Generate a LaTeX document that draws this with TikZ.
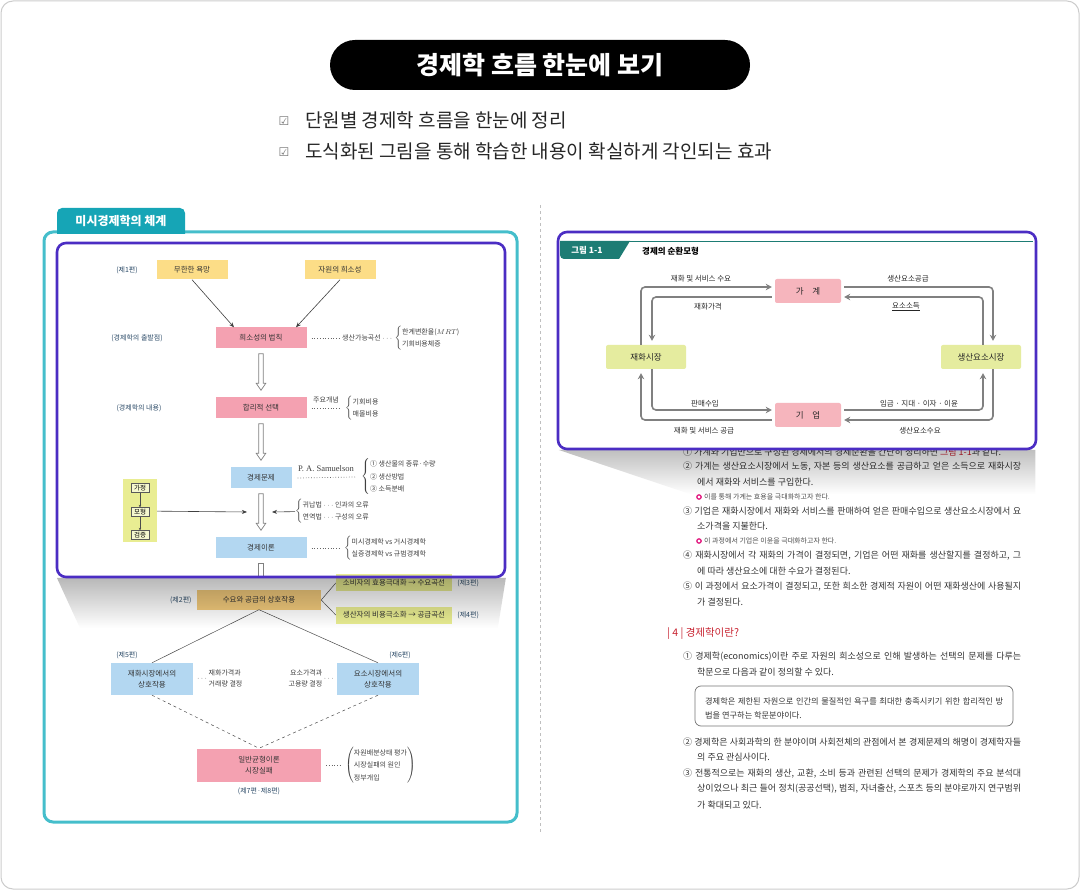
\documentclass[tikz,border=0pt]{standalone}
\usepackage{fontspec}
\setmainfont{Noto Sans CJK KR}
\newfontfamily\symfont{DejaVu Sans}
\newfontfamily\seriffont{Liberation Serif}
\usetikzlibrary{positioning, calc, fadings, arrows.meta}

\definecolor{tealframe}{HTML}{45BECB}
\definecolor{tealtab}{HTML}{16A5B6}
\definecolor{purp}{HTML}{4B2DC3}
\definecolor{pinkbox}{HTML}{F4A1B1}
\definecolor{yelbox}{HTML}{FCDD87}
\definecolor{bluebox}{HTML}{B3D7F1}
\definecolor{limebox}{HTML}{E9ED92}
\definecolor{goldbox}{HTML}{F3CB7C}
\definecolor{navytext}{HTML}{2C4B68}
\definecolor{figteal}{HTML}{1D7C74}
\definecolor{redhead}{HTML}{C7212F}
\definecolor{figpink}{HTML}{F6B5BD}
\definecolor{figlime}{HTML}{E5EC9F}
\definecolor{ringpink}{HTML}{E0107A}

% brace lists
\newcommand\brl[1]{$\left\{\begin{tabular}{@{}l@{}}#1\end{tabular}\right.$}
\newcommand\brp[1]{$\left(\begin{tabular}{@{}l@{}}#1\end{tabular}\right)$}
% hollow arrow between two boxes
\newcommand\holarrow[2]{%
  \draw[hollow] let \p1=(#1.south), \p2=(#2.north) in
    (\x1-2.2pt,\y1-5pt) -- (\x1-2.2pt,\y2+14pt) -- (\x1-4.8pt,\y2+14pt) -- (\x1,\y2+7pt)
    -- (\x1+4.8pt,\y2+14pt) -- (\x1+2.2pt,\y2+14pt) -- (\x1+2.2pt,\y1-5pt) -- cycle;}
% justified text line
\newcommand\fline[5]{\node[txt] (#1) at (#2,#3) {\makebox[#4pt][s]{#5}};}

\begin{document}
\begin{tikzpicture}[x=1pt, y=-1pt,
  box/.style={minimum width=91pt, minimum height=21pt, inner sep=1pt,
    font=\fontsize{7.5}{9}\selectfont, text=black!80},
  ybox/.style={box, fill=yelbox, minimum width=71pt, minimum height=19pt},
  pbox/.style={box, fill=pinkbox},
  bbox/.style={box, fill=bluebox},
  mbox/.style={draw=black!65, fill=white!55!limebox, inner sep=1pt, minimum width=18pt,
    minimum height=9pt, font=\fontsize{6.5}{7}\selectfont},
  part/.style={font=\fontsize{7}{8}\selectfont, text=navytext, inner sep=0pt},
  note/.style={font=\fontsize{7}{12.5}\selectfont, text=black!75, inner sep=0pt},
  leader/.style={draw=black!60, dotted, line width=0.7pt},
  link/.style={draw=black!70, line width=0.5pt},
  hollow/.style={draw=black!50, fill=white, line width=0.7pt},
  thinarr/.style={-{Stealth[length=5pt, width=4pt]}, draw=black!75, line width=0.6pt},
  cbox/.style={minimum width=66pt, minimum height=24pt, inner sep=1pt, rounded corners=2pt,
    font=\fontsize{8.5}{10}\selectfont, text=black!85},
  flow/.style={-{Stealth[length=6pt, width=6.5pt]}, draw=black!50, line width=1.6pt, rounded corners=4pt},
  fig/.style={font=\fontsize{7.5}{9}\selectfont, text=black!85, inner sep=0pt},
  txt/.style={font=\fontsize{9}{10}\selectfont, text=black!80, inner sep=0pt, anchor=west},
  small/.style={font=\fontsize{7}{8}\selectfont, text=black!70, inner sep=0pt, anchor=west},
]

\useasboundingbox (0,0) rectangle (1080,890);
\draw[black!20, line width=1pt, rounded corners=12pt] (1,1) rectangle (1079,889);

% heading
\node[fill=black, rounded corners=25pt, minimum width=420pt, minimum height=50pt, text=white,
  font=\bfseries\fontsize{25}{27}\selectfont] (title) at (540,65) {경제학 흐름 한눈에 보기};
\node[font=\symfont\fontsize{12}{13}\selectfont, text=black!55, inner sep=0pt] (chk1) at (284,121) {☑};
\node[font=\symfont\fontsize{12}{13}\selectfont, text=black!55, inner sep=0pt] (chk2) at (284,152) {☑};
\node[font=\fontsize{19}{22}\selectfont, text=black!85, anchor=west, inner sep=0pt] (goal1) at (305,120) {단원별 경제학 흐름을 한눈에 정리};
\node[font=\fontsize{19}{22}\selectfont, text=black!85, anchor=west, inner sep=0pt] (goal2) at (305,151) {도식화된 그림을 통해 학습한 내용이 확실하게 각인되는 효과};

\draw[black!25, dash pattern=on 3pt off 3pt] (540,205) -- (540,834);

% left panel
\draw[tealframe, line width=3pt, fill=white, rounded corners=9pt] (44,232) rectangle (517,822);
\fill[tealtab] (57,234) {[rounded corners=5pt] -- (57,208) -- (185,208)} -- (185,234) -- cycle;
\node[text=white, font=\bfseries\fontsize{12}{14}\selectfont] (tab) at (121,221) {미시경제학의 체계};
\fill[white, rounded corners=9pt] (57,243) rectangle (505,577);

\node[part] (vol1) at (127,270) {(제1편)};
\node[ybox] (wants) at (192,270) {무한한 욕망};
\node[ybox] (scarce) at (340,270) {자원의 희소성};

\node[part] (start) at (137,338) {(경제학의 출발점)};
\node[pbox] (law) at (261,338) {희소성의 법칙};
\draw[thinarr] (wants.south) -- ([xshift=-27pt]law.north);
\draw[thinarr] (scarce.south) -- ([xshift=35pt]law.north);
\node[note, anchor=west] (ppc) at (342,338) {생산가능곡선 $\cdots$};
\node[note, right=2pt of ppc] (mrt) {\brl{한계변환율($MRT$)\\기회비용체증}};
\draw[leader] ([xshift=5pt]law.east) -- ([xshift=-3pt]ppc.west);

\node[part] (content) at (139,408) {(경제학의 내용)};
\node[pbox] (choice) at (261,408) {합리적 선택};
\holarrow{law}{choice}
\node[note, anchor=west] (costs) at (345,408) {\brl{기회비용\\매몰비용}};
\draw[leader] ([xshift=5pt]choice.east) -- ([xshift=-4pt]costs.west);
\node[note] (concept) at (326,400) {주요개념};

\node[bbox, minimum width=61pt] (problem) at (261,478) {경제문제};
\holarrow{choice}{problem}
\node[note, font=\seriffont\fontsize{8.5}{9}\selectfont] (samuel) at (326,469) {P. A. Samuelson};
\node[note, anchor=west] (econq) at (361,477) {\brl{① 생산물의 종류·수량\\② 생산방법\\③ 소득분배}};
\draw[leader] ([xshift=6pt]problem.east) -- ([xshift=-6pt]econq.west);

\node[bbox] (theory) at (261,548) {경제이론};
\holarrow{problem}{theory}
\coordinate (mid) at (261,512);
\node[fill=limebox, minimum width=34pt, minimum height=63pt] (method) at (140,511) {};
\node[mbox] (assume) at (140,488) {가정};
\node[mbox] (model) at (140,512) {모형};
\node[mbox] (verify) at (140,535) {검증};
\draw[-{Stealth[length=2.5pt, width=2.5pt]}, black!70, line width=0.5pt] (assume) -- (model);
\draw[-{Stealth[length=2.5pt, width=2.5pt]}, black!70, line width=0.5pt] (model) -- (verify);
\draw[thinarr] (method) -- ([xshift=-14pt]mid);
\node[note, anchor=west] (logic) at (295,511) {\brl{귀납법 $\cdots$ 인과의 오류\\연역법 $\cdots$ 구성의 오류}};
\draw[thinarr] (logic) -- ([xshift=11pt]mid);
\node[note, anchor=west] (split) at (344,548) {\brl{미시경제학 vs 거시경제학\\실증경제학 vs 규범경제학}};
\draw[leader] ([xshift=5pt]theory.east) -- ([xshift=-4pt]split.west);
\draw[hollow] let \p1=(theory.south) in (\x1-2.2pt,\y1-5pt) rectangle (\x1+2.2pt,\y1-18pt);

% demand and supply
\node[box, fill=goldbox, minimum width=124pt, minimum height=19pt] (sd) at (259,600) {수요와 공급의 상호작용};
\node[part, left=5pt of sd] (vol2) {(제2편)};
\node[box, fill=limebox, minimum width=116pt, minimum height=17pt] (cons) at (394,583) {소비자의 효용극대화 → 수요곡선};
\node[box, fill=limebox, minimum width=116pt, minimum height=17pt] (prod) at (394,615) {생산자의 비용극소화 → 공급곡선};
\node[part, right=5pt of cons] (vol3) {(제3편)};
\node[part, right=5pt of prod] (vol4) {(제4편)};
\draw[link] (sd.east) -- (cons.west);
\draw[link] (sd.east) -- (prod.west);

\node[bbox, minimum width=82pt, minimum height=32pt, align=center, font=\fontsize{7.5}{11}\selectfont] (gmkt) at (152,679) {재화시장에서의\\상호작용};
\node[bbox, minimum width=82pt, minimum height=32pt, align=center, font=\fontsize{7.5}{11}\selectfont] (fmkt) at (378,679) {요소시장에서의\\상호작용};
\node[part] (vol5) at (127,655) {(제5편)};
\node[part] (vol6) at (400,655) {(제6편)};
\draw[link] (sd.south) -- (gmkt.north);
\draw[link] (sd.south) -- (fmkt.north);
\node[note, anchor=west, font=\fontsize{7}{11}\selectfont] (gnote) at (197,679) {$\cdots$\ \begin{tabular}{@{}l@{}}재화가격과\\거래량 결정\end{tabular}};
\node[note, anchor=east, font=\fontsize{7}{11}\selectfont] (fnote) at (334,679) {\begin{tabular}{@{}r@{}}요소가격과\\고용량 결정\end{tabular}\ $\cdots$};

\node[pbox, minimum width=124pt, minimum height=33pt, align=center, font=\fontsize{7.5}{11}\selectfont] (ge) at (259,765) {일반균형이론\\시장실패};
\draw[link, dashed] (gmkt.south) -- (ge.north);
\draw[link, dashed] (fmkt.south) -- (ge.north);
\node[note, anchor=west] (gen) at (345,765) {\brp{자원배분상태 평가\\시장실패의 원인\\정부개입}};
\draw[leader] ([xshift=5pt]ge.east) -- ([xshift=-3pt]gen.west);
\node[part, below=6pt of ge] (vol78) {(제7편·제8편)};

\fill[black, fill opacity=0.28, path fading=south] (57,578) -- (506,578) -- (498,628) -- (80,628) -- cycle;
\draw[purp, line width=2.6pt, rounded corners=9pt] (57,243) rectangle (505,577);

% right page text
\node[txt] (t0) at (683,452) {① 가계와 기업만으로 구성된 경제에서의 경제순환을 간단히 정리하면 \textcolor{redhead}{그림 1-1}과 같다.};
\fline{t1}{683}{467}{338}{② 가계는 생산요소시장에서 노동, 자본 등의 생산요소를 공급하고 얻은 소득으로 재화시장}
\node[txt] (t2) at (697,482) {에서 재화와 서비스를 구입한다.};
\draw[ringpink, line width=1.2pt] (699,497) circle (2.2pt);
\node[small] (n1) at (704,497) {이를 통해 가계는 효용을 극대화하고자 한다.};
\fline{t3}{683}{511}{338}{③ 기업은 재화시장에서 재화와 서비스를 판매하여 얻은 판매수입으로 생산요소시장에서 요}
\node[txt] (t4) at (697,526) {소가격을 지불한다.};
\draw[ringpink, line width=1.2pt] (699,541) circle (2.2pt);
\node[small] (n2) at (704,541) {이 과정에서 기업은 이윤을 극대화하고자 한다.};
\fline{t5}{683}{556}{338}{④ 재화시장에서 각 재화의 가격이 결정되면, 기업은 어떤 재화를 생산할지를 결정하고, 그}
\node[txt] (t6) at (697,571) {에 따라 생산요소에 대한 수요가 결정된다.};
\fline{t7}{683}{587}{338}{⑤ 이 과정에서 요소가격이 결정되고, 또한 희소한 경제적 자원이 어떤 재화생산에 사용될지}
\node[txt] (t8) at (697,602) {가 결정된다.};

\node[txt, text=redhead, font=\fontsize{10.5}{12}\selectfont] (sec4) at (667,634) {| 4 | 경제학이란?};
\fline{t9}{683}{657}{338}{① 경제학(economics)이란 주로 자원의 희소성으로 인해 발생하는 선택의 문제를 다루는}
\node[txt] (t10) at (697,672) {학문으로 다음과 같이 정의할 수 있다.};
\draw[black!55, rounded corners=6pt, line width=0.7pt] (695,686) rectangle (1013,726);
\node[txt, font=\fontsize{8.2}{9}\selectfont] (b1) at (705,701) {\makebox[298pt][s]{경제학은 제한된 자원으로 인간의 물질적인 욕구를 최대한 충족시키기 위한 합리적인 방}};
\node[txt, font=\fontsize{8.2}{9}\selectfont] (b2) at (705,715) {법을 연구하는 학문분야이다.};
\fline{t11}{683}{742}{338}{② 경제학은 사회과학의 한 분야이며 사회전체의 관점에서 본 경제문제의 해명이 경제학자들}
\node[txt] (t12) at (697,757) {의 주요 관심사이다.};
\fline{t13}{683}{774}{338}{③ 전통적으로는 재화의 생산, 교환, 소비 등과 관련된 선택의 문제가 경제학의 주요 분석대}
\fline{t14}{697}{789}{324}{상이었으나 최근 들어 정치(공공선택), 범죄, 자녀출산, 스포츠 등의 분야로까지 연구범위}
\node[txt] (t15) at (697,805) {가 확대되고 있다.};

% right figure
\fill[white, rounded corners=9pt] (558,232) rectangle (1036,449);
\fill[figteal] (560,241) {[rounded corners=4pt] -- (560,259)} -- (619,259) -- (630,241) -- cycle;
\draw[figteal, line width=1.5pt] (628,241.5) -- (1033,241.5);
\node[text=white, font=\bfseries\fontsize{8.5}{10}\selectfont] (figno) at (587,250) {그림 1-1};
\node[font=\bfseries\fontsize{8.5}{10}\selectfont, anchor=west, inner sep=0pt] (figtitle) at (642,251) {경제의 순환모형};

\node[cbox, fill=figpink] (house) at (808,291) {가\quad 계};
\node[cbox, fill=figpink] (firm) at (808,415) {기\quad 업};
\node[cbox, fill=figlime, minimum width=80pt] (gmk) at (646,357) {재화시장};
\node[cbox, fill=figlime, minimum width=80pt] (fmk) at (981,357) {생산요소시장};

\draw[flow] ([xshift=-5pt]gmk.north) |- ([xshift=-3pt, yshift=4pt]house.west);
\draw[flow] ([xshift=-3pt, yshift=-6pt]house.west) -| ([xshift=6pt, yshift=4pt]gmk.north);
\draw[flow] ([xshift=3pt, yshift=4pt]house.east) -| ([xshift=12pt, yshift=4pt]fmk.north);
\draw[flow] ([xshift=2pt]fmk.north) |- ([xshift=3pt, yshift=-6pt]house.east);
\draw[flow] ([xshift=6pt]gmk.south) |- ([xshift=-3pt, yshift=5pt]firm.west);
\draw[flow] ([xshift=-3pt, yshift=-5pt]firm.west) -| ([xshift=-5pt, yshift=-4pt]gmk.south);
\draw[flow] ([xshift=3pt, yshift=5pt]firm.east) -| ([xshift=2pt, yshift=-4pt]fmk.south);
\draw[flow] ([xshift=12pt]fmk.south) |- ([xshift=3pt, yshift=-5pt]firm.east);

\node[fig] (l1) at (701,279) {재화 및 서비스 수요};
\node[fig] (l2) at (708,307) {재화가격};
\node[fig] (l3) at (908,279) {생산요소공급};
\node[fig] (l4) at (906,307) {\underline{요소소득}};
\node[fig] (l5) at (705,404) {판매수입};
\node[fig] (l6) at (704,431) {재화 및 서비스 공급};
\node[fig] (l7) at (919,404) {임금 · 지대 · 이자 · 이윤};
\node[fig] (l8) at (920,431) {생산요소수요};

\fill[black, fill opacity=0.25, path fading=south] (559,450) -- (1036,450) -- (1036,494) -- (690,494) -- cycle;
\draw[purp, line width=2.6pt, rounded corners=9pt] (558,232) rectangle (1036,449);

\end{tikzpicture}
\end{document}
